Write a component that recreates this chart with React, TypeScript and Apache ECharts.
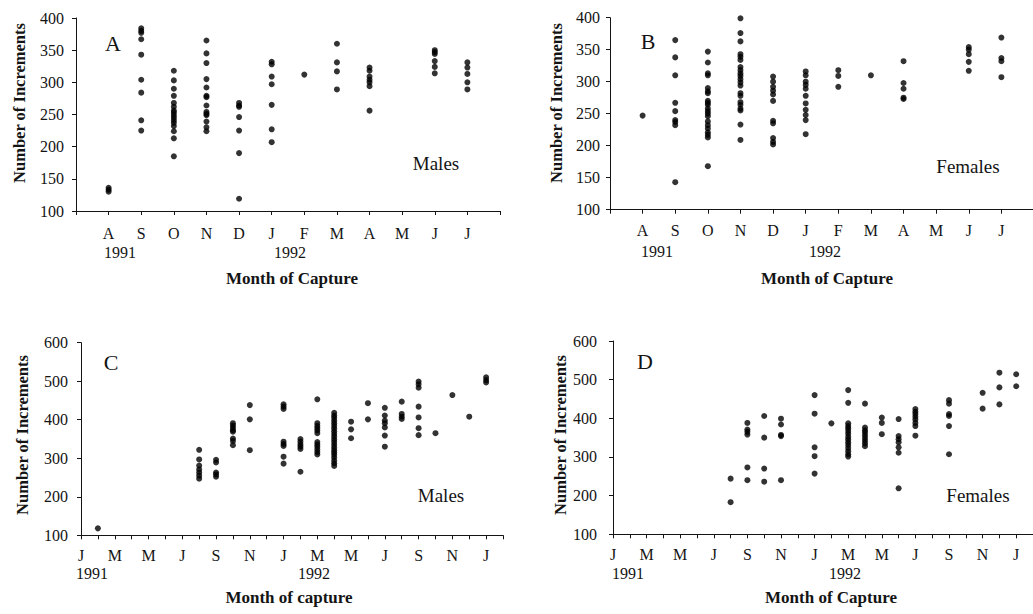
import React, { useEffect, useRef } from "react";
import * as echarts from "echarts";

// Tick labels
const monthsAB = ["", "A", "S", "O", "N", "D", "J", "F", "M", "A", "M", "J", "J", ""];
const monthsCD = ["J", "F", "M", "A", "M", "J", "J", "A", "S", "O", "N", "D", "J", "F", "M", "A", "M", "J", "J", "A", "S", "O", "N", "D", "J", "F"];

// Panel A (males, Aug 1991 - Jul 1992)
const aMonth = [1, 2, 3, 4, 5, 6, 7, 8, 9, 11, 12];
const aValues = [
  [136, 133, 130],
  [384, 380, 377, 367, 343, 304, 284, 241, 225],
  [318, 303, 290, 279, 268, 262, 256, 253, 249, 245, 241, 237, 232, 224, 213, 185],
  [365, 345, 330, 305, 292, 279, 277, 264, 254, 251, 249, 239, 230, 224],
  [268, 264, 262, 246, 225, 190, 119],
  [332, 328, 309, 297, 265, 227, 207],
  [312],
  [360, 331, 317, 289],
  [323, 318, 309, 304, 300, 294, 256],
  [350, 347, 344, 333, 324, 314],
  [331, 323, 313, 300, 289],
];

// Panel B (females, Aug 1991 - Jul 1992)
const bMonth = [1, 2, 3, 4, 5, 6, 7, 8, 9, 11, 12];
const bValues = [
  [247],
  [365, 338, 310, 267, 254, 240, 237, 232, 143],
  [347, 330, 313, 310, 290, 285, 282, 270, 267, 264, 258, 254, 250, 246, 238, 232, 227, 221, 217, 213, 168],
  [399, 376, 363, 343, 339, 334, 323, 318, 313, 309, 304, 299, 294, 282, 278, 268, 264, 258, 255, 233, 209],
  [308, 300, 292, 286, 280, 270, 239, 235, 212, 206, 202],
  [316, 310, 300, 295, 289, 278, 266, 256, 248, 240, 218],
  [318, 309, 292],
  [310],
  [332, 298, 289, 275, 273],
  [354, 350, 343, 331, 317],
  [369, 337, 332, 307],
];

// Panel C (males, Jan 1991 = 0)
const cMonth = [1, 7, 8, 9, 10, 12, 13, 14, 15, 16, 17, 18, 19, 20, 21, 22, 23, 24];
const cValues = [
  [118],
  [322, 297, 281, 271, 263, 255, 247],
  [296, 289, 263, 258, 252],
  [391, 385, 379, 373, 369, 351, 345, 334],
  [438, 401, 321],
  [440, 434, 428, 343, 337, 332, 304, 286],
  [350, 343, 336, 330, 324, 265],
  [453, 391, 384, 378, 372, 365, 342, 336, 330, 323, 316, 310],
  [418, 411, 405, 398, 391, 384, 377, 370, 363, 356, 349, 342, 335, 328, 321, 315, 309, 302, 294, 287, 280],
  [395, 375, 352],
  [443, 401],
  [431, 411, 398, 391, 380, 359, 330],
  [447, 415, 408, 402],
  [499, 492, 483, 434, 406, 378, 360],
  [365],
  [464],
  [408],
  [510, 503, 497],
];

// Panel D (females, Jan 1991 = 0)
const dMonth = [7, 8, 9, 10, 12, 13, 14, 15, 16, 17, 18, 20, 22, 23, 24];
const dValues = [
  [244, 183],
  [388, 371, 365, 358, 273, 240],
  [406, 350, 270, 236],
  [399, 384, 357, 354, 240],
  [460, 412, 325, 302, 257],
  [387],
  [473, 440, 387, 380, 374, 367, 360, 352, 345, 338, 331, 323, 315, 307, 301],
  [438, 376, 369, 363, 356, 349, 342, 335, 328],
  [402, 388, 359],
  [398, 354, 346, 338, 325, 311, 219],
  [424, 417, 411, 404, 397, 388, 380, 355],
  [447, 438, 411, 406, 380, 307],
  [466, 425],
  [518, 480, 436],
  [514, 483],
];

const FONT = "'Liberation Serif', 'Times New Roman', serif";
const INK = "#141414";

function flatten(months: number[], values: number[][]) {
  const out: number[][] = [];
  months.forEach((m, i) => values[i].forEach((v) => out.push([m, v])));
  return out;
}

function makeX(idx: number, max: number, labels: string[], step: number, margin: number) {
  return {
    type: "value",
    gridIndex: idx,
    min: 0,
    max,
    interval: 1,
    axisLine: { show: true, onZero: false, lineStyle: { color: INK, width: 1 } },
    axisTick: { show: true, inside: false, length: 4, lineStyle: { color: INK } },
    splitLine: { show: false },
    axisLabel: {
      margin,
      fontFamily: FONT,
      fontSize: 16,
      color: INK,
      showMinLabel: true,
      showMaxLabel: true,
      formatter: (v: number) => (Math.round(v) % step === 0 ? labels[Math.round(v)] || "" : ""),
    },
  };
}

function makeY(idx: number, max: number, interval: number, margin: number) {
  return {
    type: "value",
    gridIndex: idx,
    min: 100,
    max,
    interval,
    axisLine: { show: true, onZero: false, lineStyle: { color: INK, width: 1 } },
    axisTick: { show: true, inside: false, length: 4, lineStyle: { color: INK } },
    splitLine: { show: false },
    axisLabel: { margin, fontFamily: FONT, fontSize: 16, color: INK },
  };
}

function txt(x: number, y: number, text: string, size: number, bold = false, rot = 0, align = "center") {
  return {
    type: "text",
    x,
    y,
    rotation: rot,
    style: {
      text,
      fill: INK,
      font: `${bold ? "bold " : ""}${size}px ${FONT}`,
      textAlign: align,
      textVerticalAlign: "middle",
    },
  };
}

export default function App() {
  const ref = useRef<HTMLDivElement>(null);
  useEffect(() => {
    if (!ref.current) return;
    const chart = echarts.init(ref.current, undefined, { renderer: "svg" });
    const dot = { color: "#000" };
    const series = [
      { d: flatten(aMonth, aValues), i: 0 },
      { d: flatten(bMonth, bValues), i: 1 },
      { d: flatten(cMonth, cValues), i: 2 },
      { d: flatten(dMonth, dValues), i: 3 },
    ].map((s) => ({
      type: "scatter",
      xAxisIndex: s.i,
      yAxisIndex: s.i,
      data: s.d,
      symbol: "circle",
      symbolSize: 6,
      itemStyle: dot,
    }));
    const PI2 = Math.PI / 2;
    chart.setOption({
      animation: false,
      backgroundColor: "#fff",
      grid: [
        { left: 76, top: 18, width: 424, height: 193 },
        { left: 610, top: 17.7, width: 424, height: 192 },
        { left: 81, top: 342.7, width: 422, height: 192.6 },
        { left: 613, top: 341, width: 420, height: 193.3 },
      ],
      xAxis: [
        makeX(0, 13, monthsAB, 1, 14),
        makeX(1, 13, monthsAB, 1, 13),
        makeX(2, 25, monthsCD, 2, 12),
        makeX(3, 25, monthsCD, 2, 12),
      ],
      yAxis: [makeY(0, 400, 50, 12), makeY(1, 400, 50, 10), makeY(2, 600, 100, 13), makeY(3, 600, 100, 16)],
      series,
      graphic: [
        // Panel A
        txt(19, 103, "Number of Increments", 16.5, true, PI2),
        txt(113, 43, "A", 22),
        txt(436, 163, "Males", 19),
        txt(104, 252, "1991", 16, false, 0, "left"),
        txt(274, 252, "1992", 16, false, 0, "left"),
        txt(292, 278, "Month of Capture", 17, true),
        // Panel B
        txt(556, 103, "Number of Increments", 16.5, true, PI2),
        txt(648, 41, "B", 22),
        txt(968, 166, "Females", 19),
        txt(657, 251, "1991", 16),
        txt(825, 251, "1992", 16),
        txt(827, 278, "Month of Capture", 17, true),
        // Panel C
        txt(22, 435, "Number of Increments", 16.5, true, PI2),
        txt(111, 362, "C", 22),
        txt(441, 495, "Males", 19),
        txt(92, 573, "1991", 16),
        txt(314, 573, "1992", 16),
        txt(289, 597, "Month of capture", 17, true),
        // Panel D
        txt(560, 435, "Number of Increments", 16.5, true, PI2),
        txt(645, 361, "D", 22),
        txt(978, 495, "Females", 19),
        txt(628, 573, "1991", 16),
        txt(845, 573, "1992", 16),
        txt(831, 597, "Month of Capture", 17, true),
      ],
    });
    return () => chart.dispose();
  }, []);
  return (
    <div
      ref={ref}
      style={{ position: "fixed", left: 0, top: 0, width: 1040, height: 614, background: "#fff" }}
    />
  );
}
